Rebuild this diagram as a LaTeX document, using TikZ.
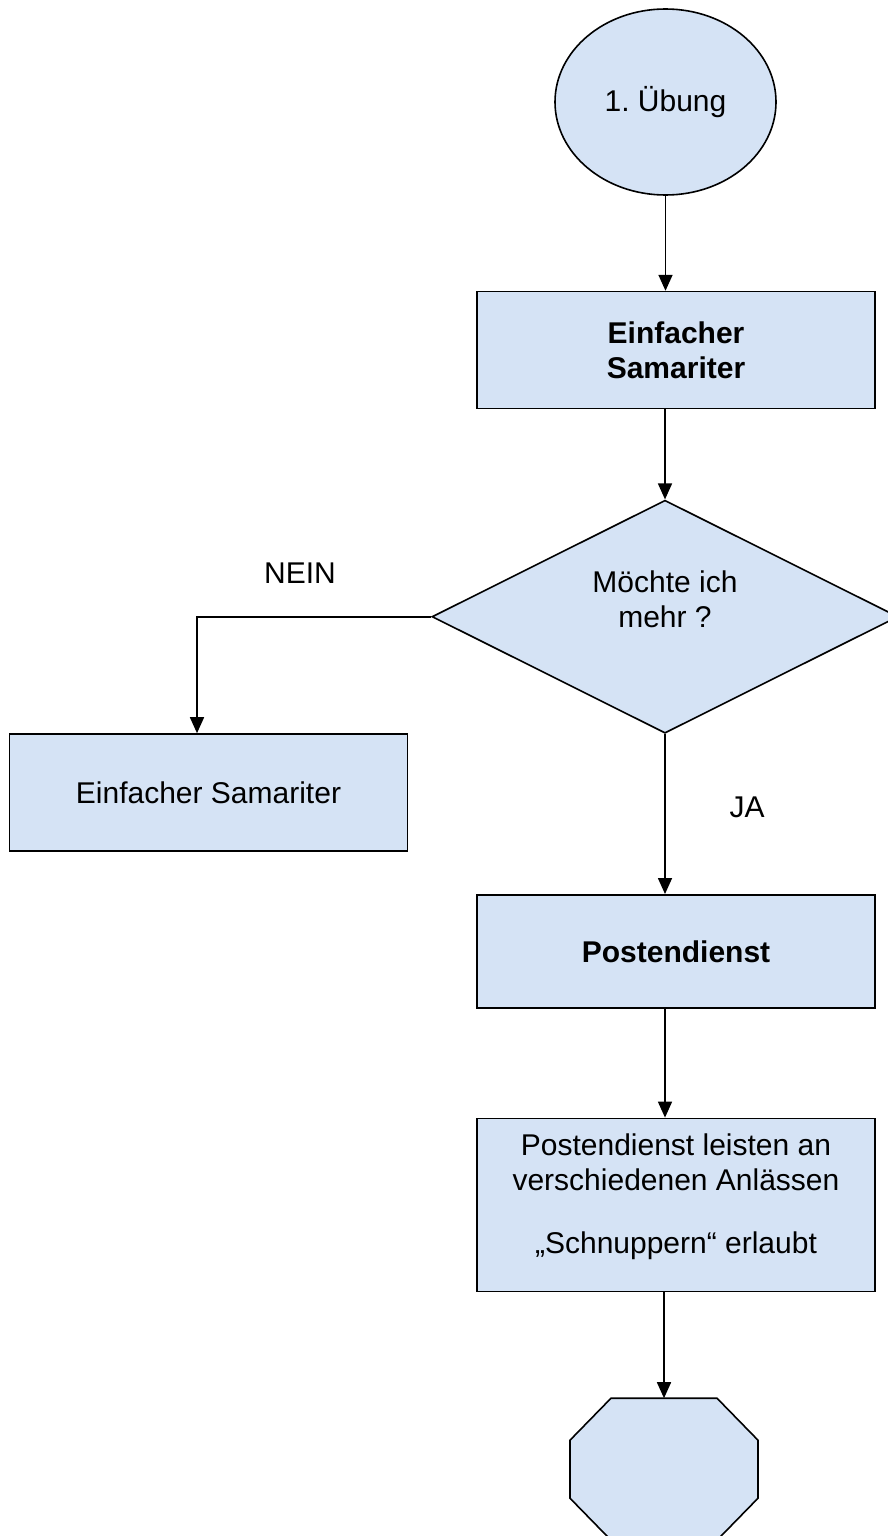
\documentclass[tikz,border=0pt]{standalone}
\usepackage{fontspec}
\setmainfont{Liberation Sans}
\usetikzlibrary{calc,positioning}
\usetikzlibrary{arrows.meta}
\usetikzlibrary{shapes}
\definecolor{stepblue}{RGB}{213,227,245}

\begin{document}
\begin{tikzpicture}[x=0.5pt,y=-0.5pt,line width=0.8pt,
  every node/.style={font=\fontsize{15pt}{17.5pt}\selectfont,align=center,inner sep=0pt},
  stepbox/.style={rectangle,draw,fill=stepblue,minimum width=199pt,minimum height=58.5pt},
  arr/.style={-{Triangle[length=8pt,width=7pt]}}]
\useasboundingbox (0,0) rectangle (888,1536);
\node[ellipse,draw,fill=stepblue,minimum width=110.5pt,minimum height=93pt] at (665.5,102) (start) {1.~Übung};
\node[stepbox,below=47.5pt of start,xshift=5.25pt] (samA) {\textbf{Einfacher}\\\textbf{Samariter}};
\node[diamond,shape aspect=2,draw,fill=stepblue,minimum width=233pt,minimum height=116.5pt,
  below=45pt of samA,xshift=-5.5pt] (ask) {Möchte ich\\mehr ?\\[-5.5pt]\strut};
\node[stepbox,below=80pt of ask,xshift=5.5pt,minimum height=56.5pt] (post) {\textbf{Postendienst}};
\node[stepbox,below=54.5pt of post,minimum height=86.5pt] (info)
{Postendienst leisten an\\verschiedenen Anlässen\\[14pt]„Schnuppern“ erlaubt\\[-6pt]};
\coordinate[below=53pt of info,xshift=-6pt] (stop);
\draw[fill=stepblue] (stop) ++(-53,0) -- ++(106,0) -- ++(41,42) -- ++(0,58)
  -- ++(-41,42) -- ++(-106,0) -- ++(-41,-42) -- ++(0,-58) -- cycle;
\node[stepbox] at (208.5,792.5) (yes) {Einfacher Samariter};
\node at (300,573) (nein) {NEIN};
\node at (747,807) (ja) {JA};
\draw[arr] (start) -- (start |- samA.north);
\draw[arr] (samA.south -| ask) -- (ask);
\draw[arr] (ask) -- (ask |- post.north);
\draw[arr] (post.south -| ask) -- (ask |- info.north);
\draw[arr] (info.south -| stop) -- (stop);
\draw[arr] (ask) -| ([xshift=-5.75pt]yes.north);
\end{tikzpicture}
\end{document}
